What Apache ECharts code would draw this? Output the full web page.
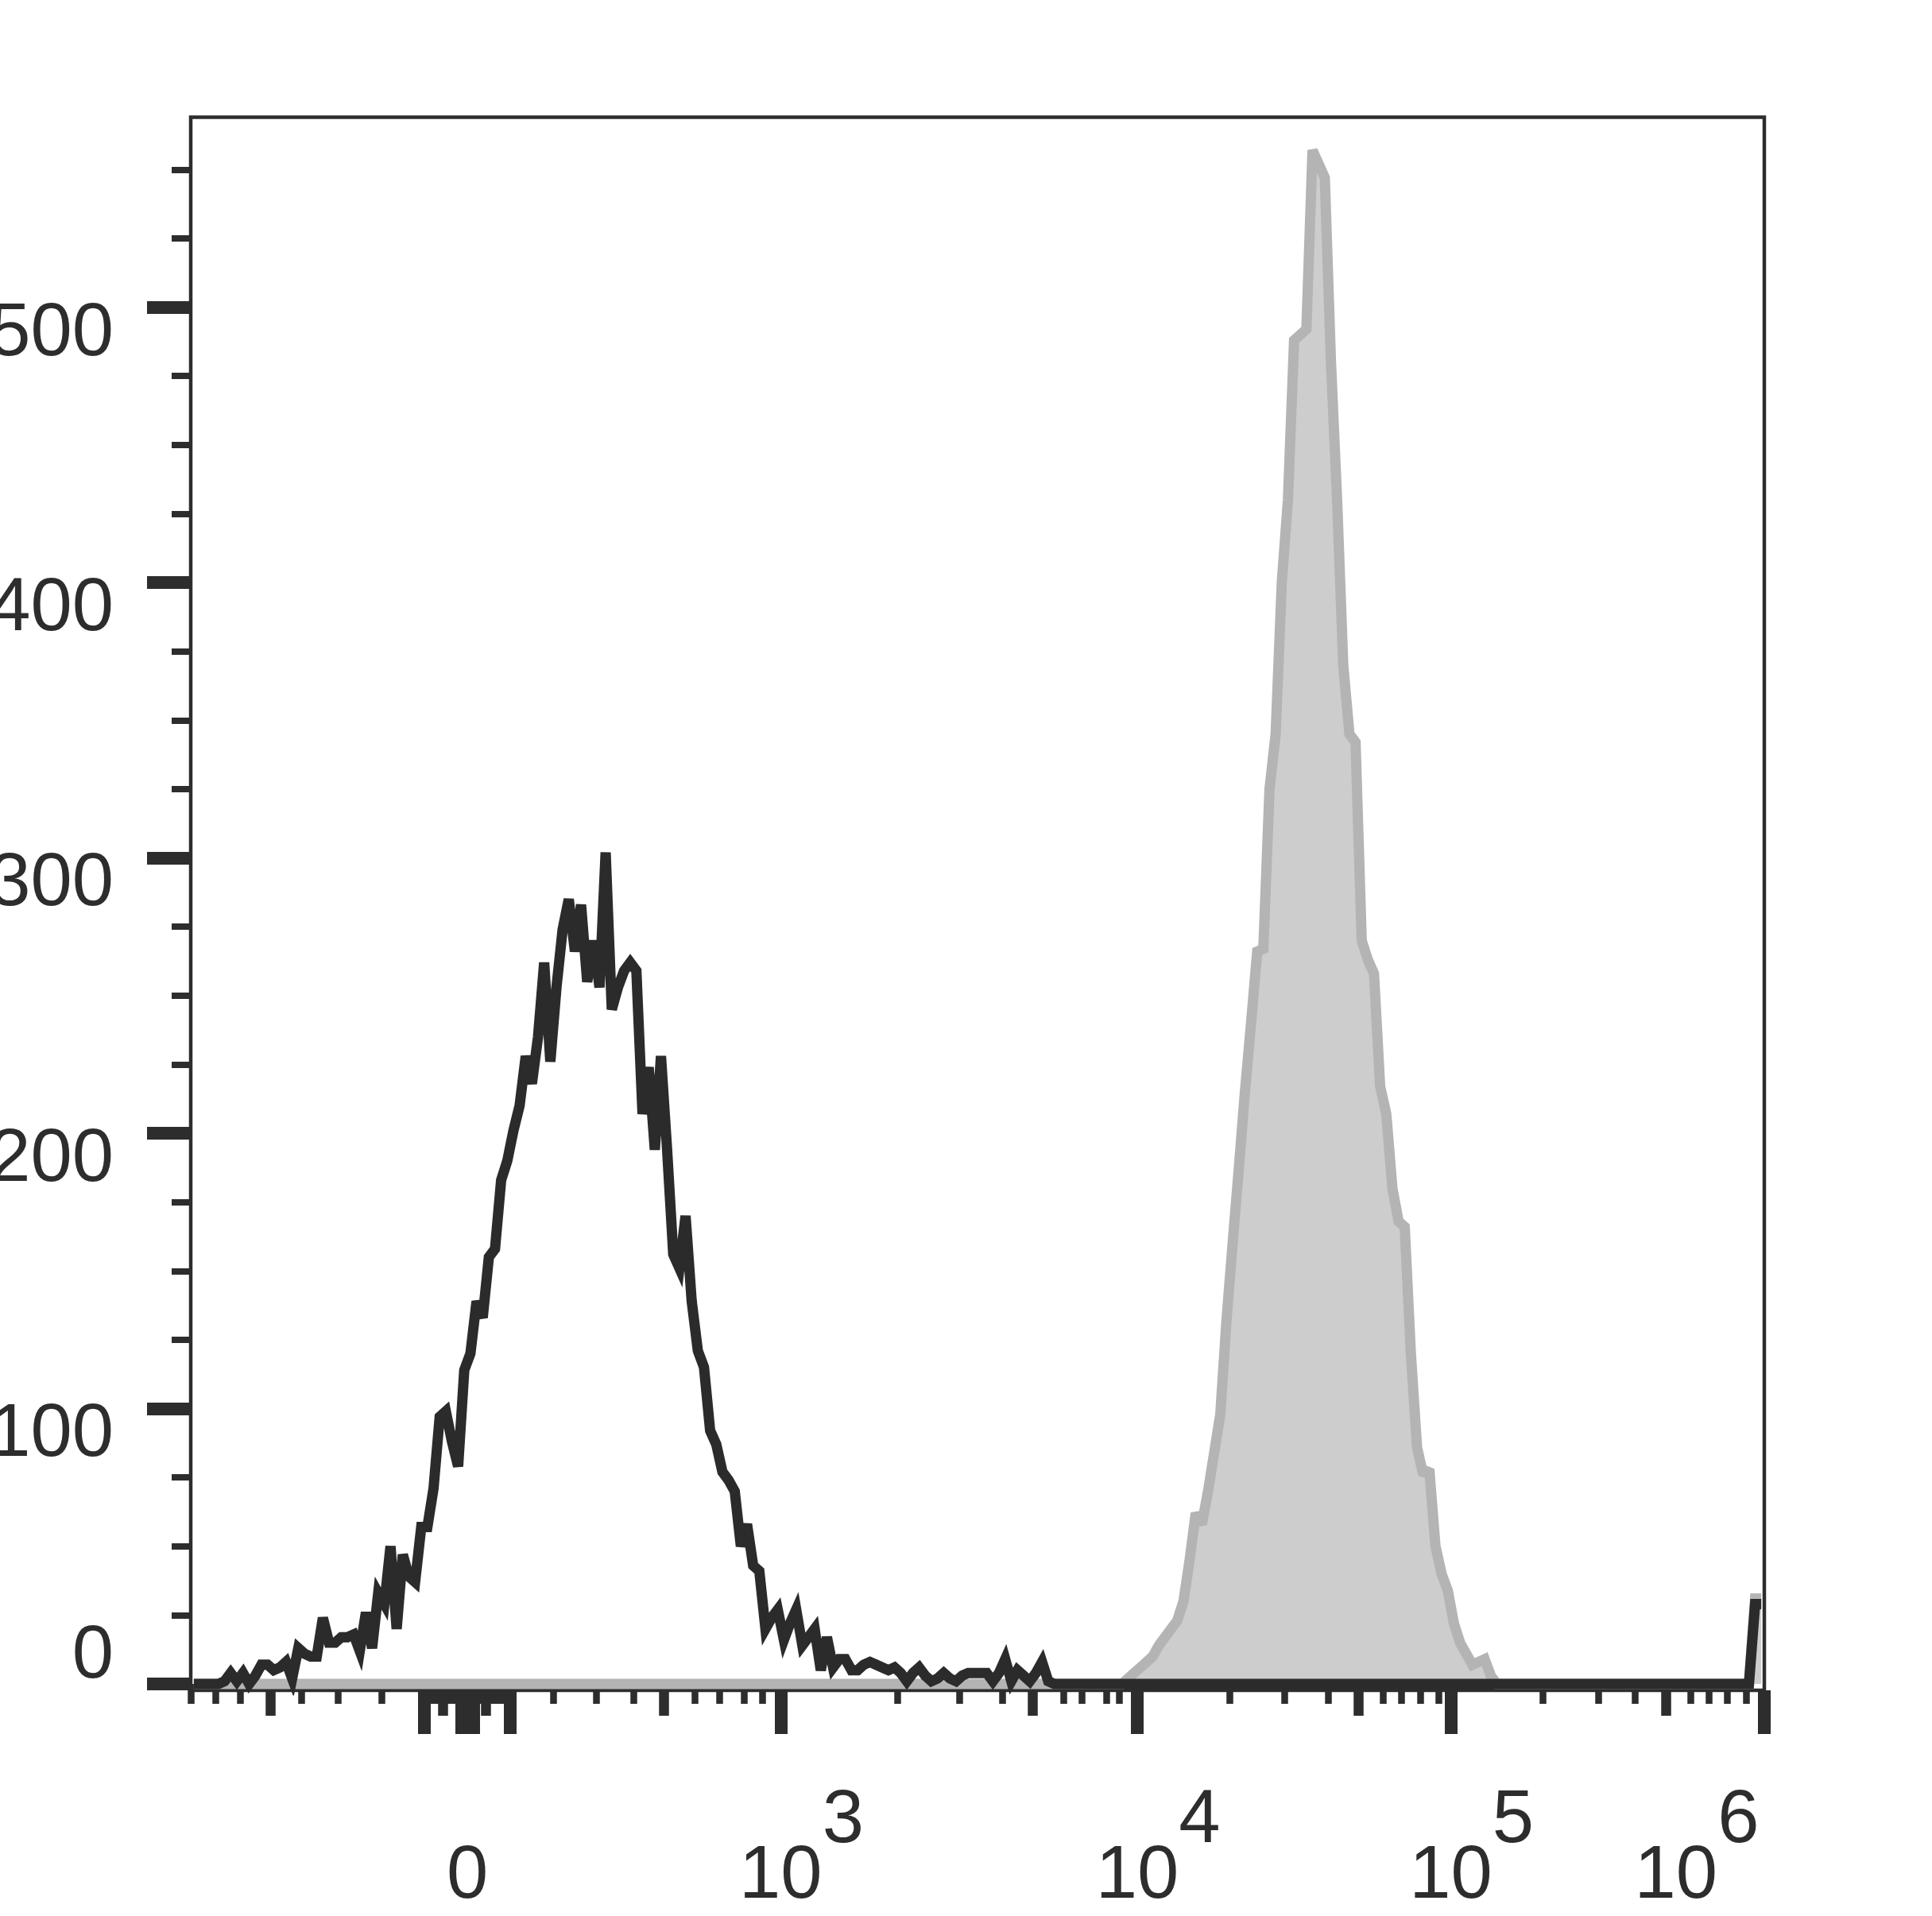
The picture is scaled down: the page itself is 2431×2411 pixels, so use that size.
<!DOCTYPE html>
<html>
<head>
<meta charset="utf-8">
<script src="https://cdn.jsdelivr.net/npm/echarts@6/dist/echarts.min.js"></script>
<style>
html,body{margin:0;padding:0;background:#ffffff;}
#chart{width:2431px;height:2411px;}
</style>
</head>
<body>
<div id="chart"></div>
<script>
// Histogram counts per display channel (256 channels across the biexponential axis)
const blackCounts = [
  0,0,0,0,0,1,4,1,4,0,3,7,7,5,6,8,
  2,13,11,10,10,24,15,15,17,17,18,12,26,13,33,29,
  50,20,47,39,37,57,57,71,97,99,88,79,114,120,139,133,
  155,158,183,190,201,210,228,218,235,262,226,253,274,285,266,283,
  255,270,253,302,245,253,259,262,259,207,224,194,228,194,156,151,
  170,139,121,115,92,87,77,74,70,50,58,43,41,20,24,27,
  16,22,27,14,17,20,5,17,6,9,9,5,5,7,8,7,
  6,5,6,4,1,4,6,3,1,2,4,2,1,3,4,4,
  4,4,1,4,9,1,5,3,1,4,8,1,0,0,0,0,
  0,0,0,0,0,0,0,0,0,0,0,0,0,0,0,0,
  0,0,0,0,0,0,0,0,0,0,0,0,0,0,0,0,
  0,0,0,0,0,0,0,0,0,0,0,0,0,0,0,0,
  0,0,0,0,0,0,0,0,0,0,0,0,0,0,0,0,
  0,0,0,0,0,0,0,0,0,0,0,0,0,0,0,0,
  0,0,0,0,0,0,0,0,0,0,0,0,0,0,0,0,
  0,0,0,0,0,0,0,0,0,0,0,0,0,0,29,29
];
const grayCounts = [
  0,0,0,0,0,0,0,0,0,0,0,0,0,0,0,0,
  0,0,0,0,0,0,0,0,0,0,0,0,0,0,0,0,
  0,0,0,0,0,0,0,0,0,0,0,0,0,0,0,0,
  0,0,0,0,0,0,0,0,0,0,0,0,0,0,0,0,
  0,0,0,0,0,0,0,0,0,0,0,0,0,0,0,0,
  0,0,0,0,0,0,0,0,0,0,0,0,0,0,0,0,
  0,0,0,0,0,0,0,0,0,0,0,0,0,0,0,0,
  0,0,0,0,0,0,0,0,0,0,0,0,0,0,0,0,
  0,0,0,0,0,0,0,0,0,0,0,0,0,0,0,0,
  0,0,0,0,0,0,0,0,2,4,6,8,10,14,17,20,
  23,30,45,62,58,70,84,98,132,160,187,215,240,266,267,325,
  345,400,430,488,490,492,557,552,547,480,430,370,345,342,270,263,
  258,217,207,180,168,166,120,86,76,78,50,40,34,22,15,11,
  7,8,9,3,0,0,0,0,0,0,0,0,0,0,0,0,
  0,0,0,0,0,0,0,0,0,0,0,0,0,0,0,0,
  0,0,0,0,0,0,0,0,0,0,0,0,0,0,31,31
];

// Axis tick positions, in display channels (0..256)
const xMinorTicks = [0,4,8,18,24,31,38,39,40,41,42,43,44,45,46,47,48,49,50,51,52,
  59,66,72,82,86,90,93,115,125,132,142,145,149,151,
  169,178,185,194,197,200,203,220,229,235,244,247,250,253];
const xMediumTicks = [13,41,48,77,137,190,240];
const xMajorTicks = [38,44,45,46,52,96,154,205,256];
const xLabelPos = [45,96,154,205,256];
const xLabelBase = ['0','10','10','10','10'];
const xLabelExp = ['','3','4','5','6'];

const yMajorTicks = [0,100,200,300,400,500];
const yMinorTicks = [25,50,75,125,150,175,225,250,275,325,350,375,425,450,475,525,550];

const INK = '#2d2d2d';
const FONT = "'Liberation Sans', Arial, Helvetica, sans-serif";
const FS = 94;

const chart = echarts.init(document.getElementById('chart'), null, {renderer: 'canvas'});

function xAxisDef(ticks, len, width, label) {
  return {
    type: 'value', gridIndex: 0, position: 'bottom', min: 0, max: 256,
    axisLine: {show: false},
    splitLine: {show: false},
    axisTick: {show: true, inside: false, length: len, customValues: ticks,
      lineStyle: {color: INK, width: width}},
    axisLabel: label || {show: false}
  };
}
function yAxisDef(ticks, len, width, label) {
  return {
    type: 'value', gridIndex: 0, position: 'left', min: -2.3, max: 569,
    axisLine: {show: false},
    splitLine: {show: false},
    axisTick: {show: true, inside: false, length: len, customValues: ticks,
      lineStyle: {color: INK, width: width}},
    axisLabel: label || {show: false}
  };
}

const tok = (extra) => Object.assign({fontSize: FS, lineHeight: FS, fontFamily: FONT, color: INK, verticalAlign: 'bottom'}, extra);

const xLabel = {
  show: true,
  customValues: xLabelPos,
  margin: 188,
  fontSize: FS, fontFamily: FONT, color: INK,
  formatter: function (v) {
    const i = xLabelPos.indexOf(Math.round(v));
    if (i < 0) return '';
    if (!xLabelExp[i]) return '{z|' + xLabelBase[i] + '}';
    if (i === xLabelPos.length - 1) return '{e|' + xLabelBase[i] + '}{f|' + xLabelExp[i] + '}';
    return '{b|' + xLabelBase[i] + '}{s|' + xLabelExp[i] + '}';
  },
  rich: {
    z: tok({padding: [70, 0, 0, 0]}),
    b: tok({padding: [0, 0, 0, 52]}),
    s: tok({padding: [0, 0, 70, 0]}),
    e: tok({padding: [0, 0, 0, 0]}),
    f: tok({padding: [0, 170, 70, 0]})
  }
};

const yLabel = {
  show: true,
  customValues: yMajorTicks,
  margin: 97,
  fontSize: FS, fontFamily: FONT, color: INK,
  formatter: function (v) {
    return v === 0 ? '{z|0}' : '{n|' + v + '}';
  },
  rich: {
    z: {fontSize: FS, lineHeight: FS, fontFamily: FONT, color: INK, padding: [0, 0, 68, 0]},
    n: {fontSize: FS, lineHeight: FS, fontFamily: FONT, color: INK, padding: [68, 0, 0, 0]}
  }
};

const toPoints = (arr) => arr.map((v, j) => [j + 0.5, v]);

chart.setOption({
  animation: false,
  backgroundColor: '#ffffff',
  grid: {
    left: 240, right: 211, top: 147.5, bottom: 284,
    containLabel: false, outerBoundsMode: 'none',
    show: true, borderColor: INK, borderWidth: 4.5, backgroundColor: 'transparent'
  },
  xAxis: [
    xAxisDef(xMinorTicks, 25, 8.5),
    xAxisDef(xMediumTicks, 40, 12.5),
    xAxisDef(xMajorTicks, 55, 16, xLabel)
  ],
  yAxis: [
    yAxisDef(yMinorTicks, 24, 8),
    yAxisDef(yMajorTicks, 55, 16, yLabel)
  ],
  series: [
    {
      name: 'stained', type: 'line', xAxisIndex: 0, yAxisIndex: 0,
      data: toPoints(grayCounts), showSymbol: false, symbol: 'none',
      lineStyle: {color: '#b4b4b4', width: 13, join: 'miter', miterLimit: 1.6},
      areaStyle: {color: '#cdcdcd', opacity: 1},
      z: 2
    },
    {
      name: 'control', type: 'line', xAxisIndex: 0, yAxisIndex: 0,
      data: toPoints(blackCounts), showSymbol: false, symbol: 'none',
      lineStyle: {color: '#2b2b2b', width: 13, join: 'miter', miterLimit: 4},
      z: 3
    }
  ]
});
</script>
</body>
</html>
